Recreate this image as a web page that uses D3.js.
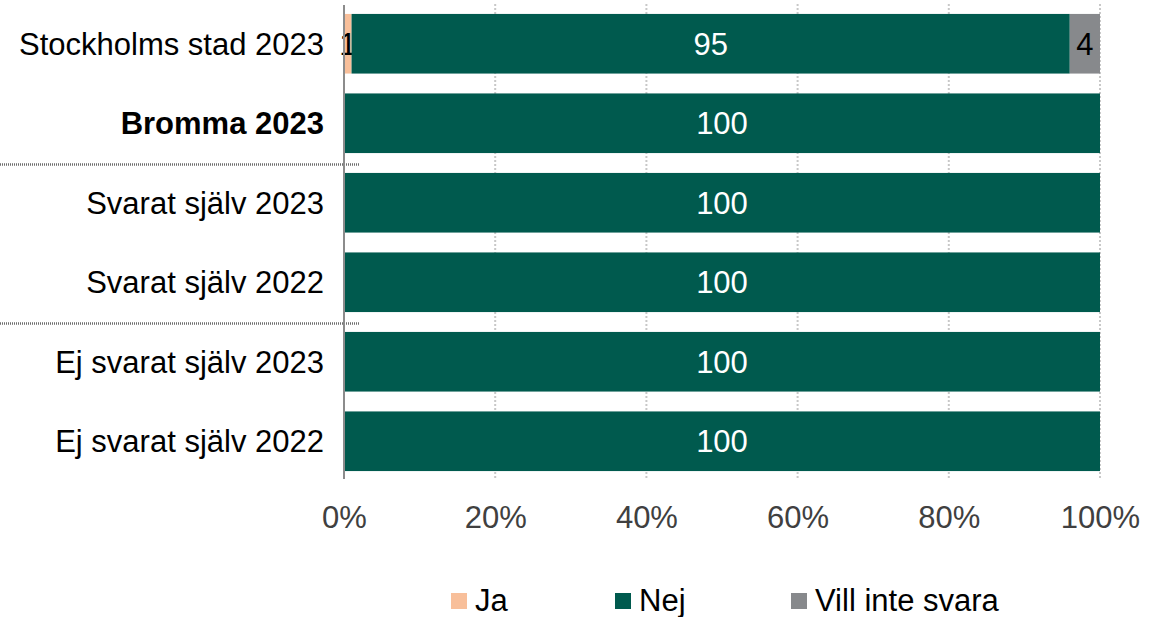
<!DOCTYPE html>
<html>
<head>
<meta charset="utf-8">
<script src="https://cdn.jsdelivr.net/npm/d3@7"></script>
<style>
  body { margin: 0; background: #fff; }
  svg { display: block; font-family: "Liberation Sans", Arial, sans-serif; }
</style>
</head>
<body>
<svg id="chart" width="1150" height="617"></svg>
<script>
// Row labels, top to bottom
const categories = [
  "Stockholms stad 2023",
  "Bromma 2023",
  "Svarat själv 2023",
  "Svarat själv 2022",
  "Ej svarat själv 2023",
  "Ej svarat själv 2022"
];
// Share of answers (%) per row
const ja       = [1, 0, 0, 0, 0, 0];
const nej      = [95, 100, 100, 100, 100, 100];
const villInte = [4, 0, 0, 0, 0, 0];

const seriesNames = ["Ja", "Nej", "Vill inte svara"];
const seriesColors = ["#F8BF9A", "#005A4E", "#87898C"];
const labelColors = ["#000000", "#ffffff", "#000000"];
const tickValues = [0, 20, 40, 60, 80, 100];
const boldRow = "Bromma 2023";

const svg = d3.select("#chart");
const plotLeft = 344, plotRight = 1100, plotTop = 4, plotBottom = 481;

const x = d3.scaleLinear().domain([0, 100]).range([plotLeft, plotRight]);
const y = d3.scaleBand().domain(categories).range([plotTop, plotBottom]).paddingInner(0.25).paddingOuter(0.125);

const rows = categories.map((c, i) => ({ cat: c, values: [ja[i], nej[i], villInte[i]] }));

// Vertical dotted gridlines
svg.append("g")
  .selectAll("line")
  .data(tickValues.filter(d => d > 0))
  .join("line")
  .attr("x1", d => x(d)).attr("x2", d => x(d))
  .attr("y1", plotTop).attr("y2", 479)
  .attr("stroke", "#c8c8c8")
  .attr("stroke-width", 2)
  .attr("stroke-dasharray", "2 2");

// Group separators
const sepAfter = [1, 3];
const sepY = i => (y(categories[i]) + y.bandwidth() + y(categories[i + 1])) / 2 + 1.5;
svg.append("g")
  .selectAll("line")
  .data(sepAfter)
  .join("line")
  .attr("x1", 0).attr("x2", plotLeft + 16)
  .attr("y1", sepY)
  .attr("y2", sepY)
  .attr("stroke", "#6e6e6e")
  .attr("stroke-width", 2.5)
  .attr("stroke-dasharray", "1 1");

// Stacked bars
const barG = svg.append("g");
rows.forEach(r => {
  let acc = 0;
  r.values.forEach((v, k) => {
    if (v <= 0) return;
    const x0 = x(acc), x1 = x(acc + v);
    barG.append("rect")
      .attr("x", x0).attr("y", y(r.cat))
      .attr("width", x1 - x0).attr("height", y.bandwidth())
      .attr("fill", seriesColors[k]);
    barG.append("text")
      .attr("x", (x0 + x1) / 2)
      .attr("y", y(r.cat) + y.bandwidth() / 2)
      .attr("dy", "0.36em")
      .attr("text-anchor", "middle")
      .attr("font-size", 31)
      .attr("fill", labelColors[k])
      .text(v);
    acc += v;
  });
});

// Zero axis line
svg.append("line")
  .attr("x1", x(0)).attr("x2", x(0))
  .attr("y1", plotTop + 1).attr("y2", 479)
  .attr("stroke", "#8c8c8c").attr("stroke-width", 2);

// Category labels
svg.append("g")
  .selectAll("text")
  .data(categories)
  .join("text")
  .attr("x", 324)
  .attr("y", d => y(d) + y.bandwidth() / 2)
  .attr("dy", "0.36em")
  .attr("text-anchor", "end")
  .attr("font-size", 31)
  .attr("font-weight", d => d === boldRow ? "bold" : "normal")
  .attr("fill", "#000")
  .text(d => d);

// X axis tick labels
const xAxis = d3.axisBottom(x).tickValues(tickValues).tickSize(0).tickFormat(d => d + "%");
const axG = svg.append("g").attr("transform", "translate(0,506)").call(xAxis);
axG.select(".domain").remove();
axG.selectAll("text")
  .attr("font-size", 31)
  .attr("font-family", "Liberation Sans, Arial, sans-serif")
  .attr("fill", "#404040")
  .attr("y", 0)
  .attr("dy", "0.72em");

// Legend
const legendX = [451, 615, 791];
const lg = svg.append("g");
seriesNames.forEach((n, k) => {
  lg.append("rect")
    .attr("x", legendX[k]).attr("y", 593)
    .attr("width", 16).attr("height", 16)
    .attr("fill", seriesColors[k]);
  lg.append("text")
    .attr("x", legendX[k] + 24).attr("y", 611)
    .attr("font-size", 31)
    .attr("fill", "#000")
    .text(n);
});
</script>
</body>
</html>
